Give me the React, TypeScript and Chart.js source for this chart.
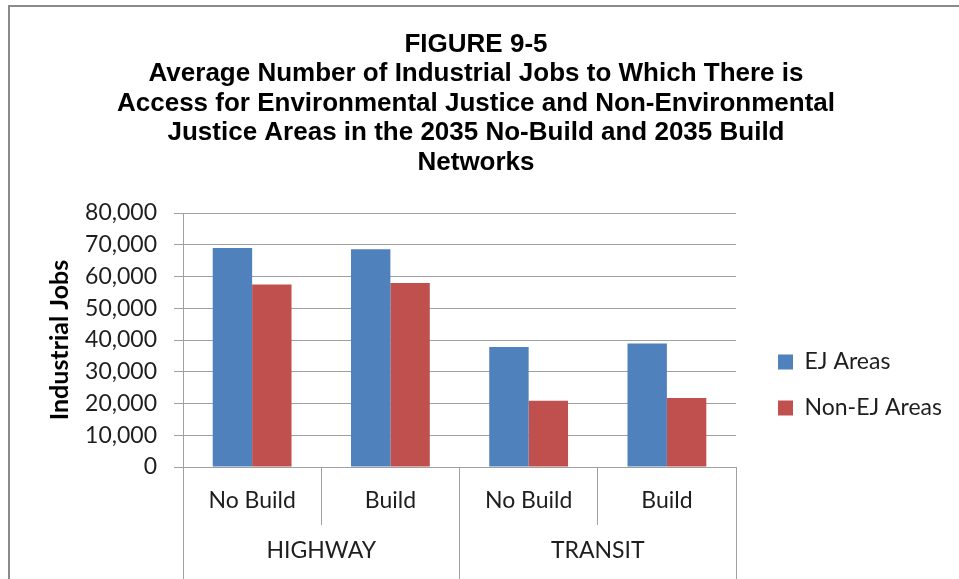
import React, { useEffect, useRef } from 'react';
import { Chart, registerables } from 'chart.js';

Chart.register(...registerables);

const titleLines = [
  'FIGURE 9-5',
  'Average Number of Industrial Jobs to Which There is',
  'Access for Environmental Justice and Non-Environmental',
  'Justice Areas in the 2035 No-Build and 2035 Build',
  'Networks',
];
const scenarios = ['No Build', 'Build', 'No Build', 'Build'];
const modes = ['HIGHWAY', 'TRANSIT'];
const seriesNames = ['EJ Areas', 'Non-EJ Areas'];
const ejAreas = [69000, 68600, 37800, 38900];
const nonEjAreas = [57500, 58000, 20900, 21700];
const yMin = 0;
const yMax = 80000;
const yStep = 10000;
const yTitle = 'Industrial Jobs';

const GRID = '#a0a0a0';
const TXT = '#1e1e1e';
const FONT = 'Lato';

export default function App() {
  const ref = useRef<HTMLCanvasElement>(null);
  useEffect(() => {
    const chart = new Chart(ref.current as HTMLCanvasElement, {
      type: 'bar',
      data: {
        labels: scenarios,
        datasets: [
          { label: seriesNames[0], data: ejAreas, backgroundColor: '#4F81BD', xAxisID: 'x', yAxisID: 'y' },
          { label: seriesNames[1], data: nonEjAreas, backgroundColor: '#C0504D', xAxisID: 'x', yAxisID: 'y' },
        ],
      },
      options: {
        animation: false,
        responsive: true,
        maintainAspectRatio: false,
        layout: { padding: { left: 0, top: 0, bottom: 0, right: 7 } },
        datasets: { bar: { categoryPercentage: 0.57, barPercentage: 1 } },
        plugins: {
          tooltip: { enabled: false },
          title: {
            display: true,
            text: titleLines,
            color: '#000',
            font: { family: 'Liberation Sans', weight: 'bold', size: 26, lineHeight: 1.135 },
            padding: { top: 30, bottom: 35.5 },
          },
          legend: {
            position: 'right',
            align: 'start',
            maxWidth: 203,
            title: {
              display: true,
              text: '',
              font: { size: 10, lineHeight: 1.2 },
              padding: { top: 315.5, bottom: 0 },
            },
            labels: {
              boxWidth: 15,
              boxHeight: 15,
              padding: 23,
              color: TXT,
              font: { family: FONT, size: 23 },
            },
          },
        },
        scales: {
          x: {
            type: 'category',
            position: 'bottom',
            offset: true,
            grid: { offset: true, drawOnChartArea: false, drawTicks: true, tickLength: 58, color: GRID },
            border: { display: true, color: GRID },
            ticks: { font: { family: FONT, size: 23 }, color: TXT, padding: -38, maxRotation: 0, autoSkip: false },
            afterFit: (s: any) => { s.height = 50; },
          },
          x2: {
            type: 'category',
            position: 'bottom',
            labels: modes,
            offset: true,
            grid: { offset: true, drawOnChartArea: false, drawTicks: true, tickLength: 70, color: GRID },
            border: { display: false },
            ticks: { font: { family: FONT, size: 23 }, color: TXT, padding: -50, maxRotation: 0, autoSkip: false },
            afterFit: (s: any) => { s.height = 62; },
          },
          y: {
            type: 'linear',
            position: 'left',
            min: yMin,
            max: yMax,
            ticks: {
              stepSize: yStep,
              font: { family: FONT, size: 23 },
              color: TXT,
              padding: 17,
              callback: (v: any) => Number(v).toLocaleString('en-US'),
            },
            grid: { color: GRID, tickLength: 9 },
            border: { display: true, color: GRID },
            title: {
              display: true,
              text: yTitle,
              color: '#000',
              font: { family: FONT, size: 25, weight: 'bold', lineHeight: 1.2 },
              padding: { top: 45, bottom: 0 },
            },
            afterFit: (s: any) => { s.width = 183; },
          },
          yGap: {
            type: 'linear',
            position: 'right',
            display: true,
            grid: { display: false },
            border: { display: false },
            ticks: { display: false },
            afterFit: (s: any) => { s.width = 19; },
          },
        },
      } as any,
    });
    return () => chart.destroy();
  }, []);

  return (
    <div style={{ position: 'fixed', left: 0, top: 0, width: 959, height: 579, overflow: 'hidden', background: '#fff' }}>
      <div style={{ position: 'absolute', left: 8, top: 5, right: -20, bottom: -20, border: '2px solid #8a8a8a' }} />
      <div style={{ position: 'absolute', left: 0, top: 0, width: 959, height: 579 }}>
        <canvas ref={ref} />
      </div>
    </div>
  );
}
